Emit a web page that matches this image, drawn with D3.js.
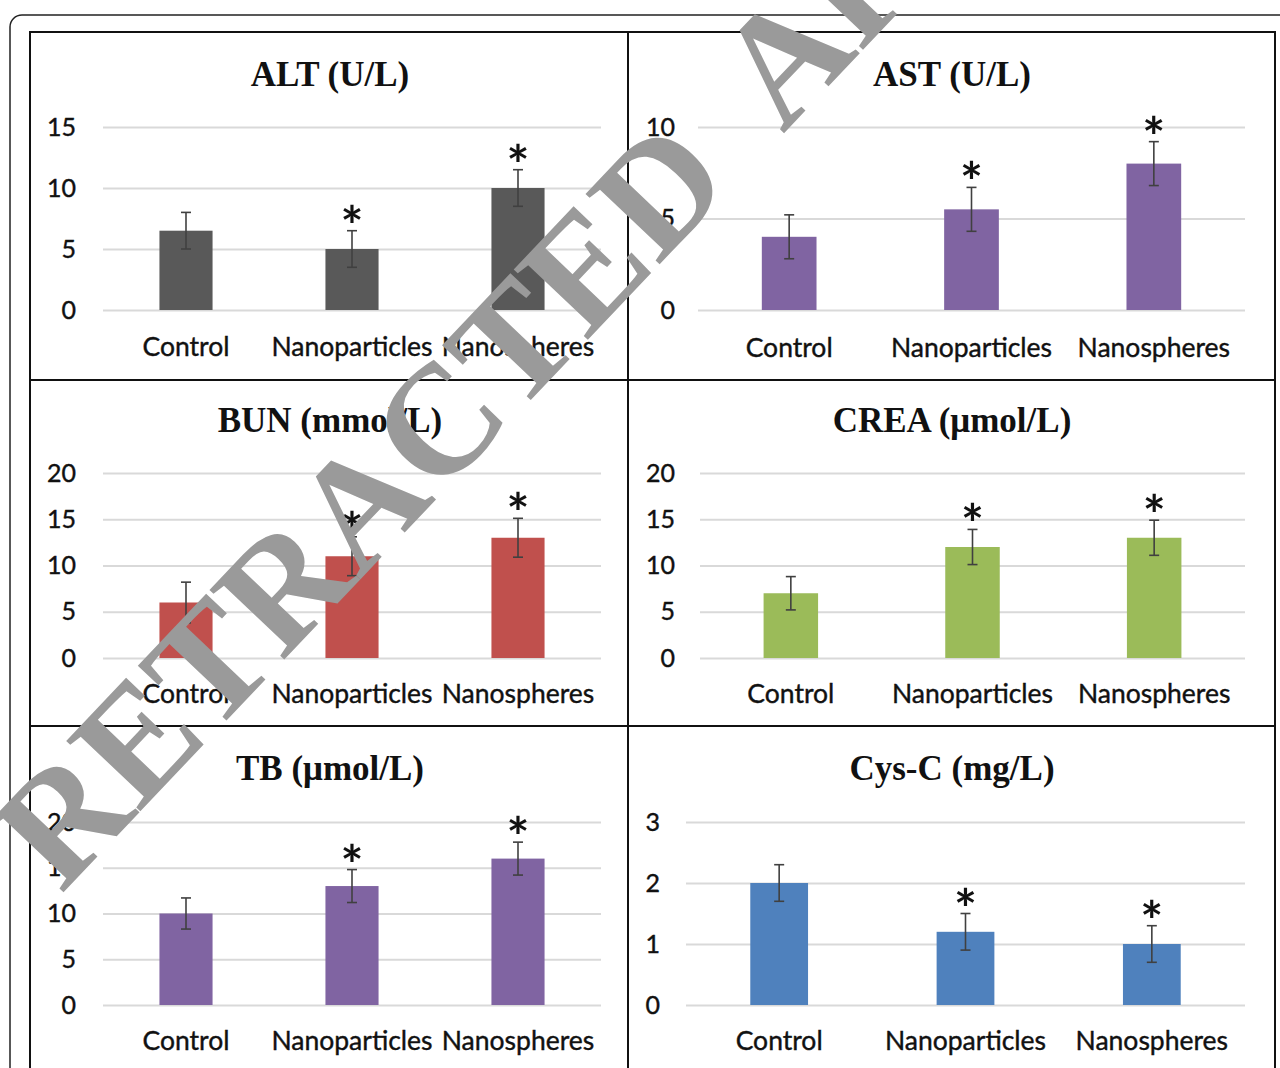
<!DOCTYPE html>
<html>
<head>
<meta charset="utf-8">
<script src="https://cdn.jsdelivr.net/npm/d3@7"></script>
<style>
  html, body { margin: 0; padding: 0; background: #fff; }
  svg { display: block; }
</style>
</head>
<body>
<svg id="chart" width="1280" height="1068"></svg>
<script>
// Serum biochemistry: mean ± error for each treatment group
const groups = ["Control", "Nanoparticles", "Nanospheres"];

const altMean = [6.5, 5, 10];
const altErr = [1.5, 1.5, 1.5];
const altTicks = [0, 5, 10, 15];

const astMean = [4, 5.5, 8];
const astErr = [1.2, 1.2, 1.2];
const astTicks = [0, 5, 10];

const bunMean = [6, 11, 13];
const bunErr = [2.2, 2.1, 2.1];
const bunTicks = [0, 5, 10, 15, 20];

const creaMean = [7, 12, 13];
const creaErr = [1.8, 1.9, 1.9];
const creaTicks = [0, 5, 10, 15, 20];

const tbMean = [10, 13, 16];
const tbErr = [1.7, 1.8, 1.8];
const tbTicks = [0, 5, 10, 15, 20];

const cysMean = [2, 1.2, 1];
const cysErr = [0.3, 0.3, 0.3];
const cysTicks = [0, 1, 2, 3];

// groups marked significant versus control
const significant = [false, true, true];

const panelTitles = ["ALT (U/L)", "AST (U/L)", "BUN (mmol/L)", "CREA (μmol/L)", "TB (μmol/L)", "Cys-C (mg/L)"];

const panels = [
  { title: panelTitles[0], mean: altMean, err: altErr, ticks: altTicks, color: "#595959",
    x0: 103, x1: 601, labelX: 76, y0: 310, y1: 127, titleX: 330, titleY: 74, catY: 347, pad: 0.68 },
  { title: panelTitles[1], mean: astMean, err: astErr, ticks: astTicks, color: "#8064a2",
    x0: 698, x1: 1245, labelX: 675, y0: 310, y1: 127, titleX: 952, titleY: 74, catY: 348, pad: 0.70 },
  { title: panelTitles[2], mean: bunMean, err: bunErr, ticks: bunTicks, color: "#c0504d",
    x0: 103, x1: 601, labelX: 76, y0: 658, y1: 473, titleX: 330, titleY: 420, catY: 694, pad: 0.68 },
  { title: panelTitles[3], mean: creaMean, err: creaErr, ticks: creaTicks, color: "#9bbb59",
    x0: 700, x1: 1245, labelX: 675, y0: 658, y1: 473, titleX: 952, titleY: 420, catY: 694, pad: 0.70 },
  { title: panelTitles[4], mean: tbMean, err: tbErr, ticks: tbTicks, color: "#8064a2",
    x0: 103, x1: 601, labelX: 76, y0: 1005, y1: 822, titleX: 330, titleY: 768, catY: 1041, pad: 0.68 },
  { title: panelTitles[5], mean: cysMean, err: cysErr, ticks: cysTicks, color: "#4f81bd",
    x0: 686, x1: 1245, labelX: 660, y0: 1005, y1: 822, titleX: 952, titleY: 768, catY: 1041, pad: 0.69 }
];

const svg = d3.select("#chart");
const sansFont = "Lato, 'Open Sans', sans-serif";
const serifFont = "'Liberation Serif', 'DejaVu Serif', serif";

// outer rounded frame and the table grid around the six panels
svg.append("rect")
  .attr("x", 10).attr("y", 15).attr("width", 1300).attr("height", 1100)
  .attr("rx", 12).attr("fill", "none").attr("stroke", "#222").attr("stroke-width", 1.5);

const table = svg.append("g").attr("stroke", "#111").attr("stroke-width", 2).attr("fill", "none");
table.append("rect").attr("x", 30).attr("y", 32).attr("width", 1245).attr("height", 1080);
table.append("line").attr("x1", 628).attr("x2", 628).attr("y1", 32).attr("y2", 1068);
table.append("line").attr("x1", 30).attr("x2", 1275).attr("y1", 380).attr("y2", 380);
table.append("line").attr("x1", 30).attr("x2", 1275).attr("y1", 726).attr("y2", 726);

panels.forEach(p => {
  const g = svg.append("g");
  const yMax = d3.max(p.ticks);
  const y = d3.scaleLinear().domain([0, yMax]).range([p.y0, p.y1]);
  const x = d3.scaleBand().domain(groups).range([p.x0, p.x1])
    .paddingInner(p.pad).paddingOuter(p.pad / 2);
  const cx = d => x(d) + x.bandwidth() / 2;

  // horizontal gridlines + tick labels via a left axis
  const axis = d3.axisLeft(y).tickValues(p.ticks).tickFormat(d3.format("d"))
    .tickSize(-(p.x1 - p.x0)).tickPadding(p.x0 - p.labelX);
  const ag = g.append("g").attr("transform", `translate(${p.x0},0)`).call(axis);
  ag.select(".domain").remove();
  ag.selectAll(".tick line").attr("stroke", "#d9d9d9").attr("stroke-width", 2);
  ag.selectAll(".tick text")
    .attr("font-family", sansFont).attr("font-size", 25).attr("fill", "#111")
    .attr("stroke", "#111").attr("stroke-width", 0.4);

  // title
  g.append("text")
    .attr("x", p.titleX).attr("y", p.titleY).attr("dy", "0.35em")
    .attr("text-anchor", "middle")
    .attr("font-family", serifFont).attr("font-weight", "bold").attr("font-size", 35)
    .attr("fill", "#111").text(p.title);

  // bars
  g.selectAll("rect.bar").data(groups).join("rect")
    .attr("class", "bar")
    .attr("x", d => x(d)).attr("width", x.bandwidth())
    .attr("y", (d, i) => y(p.mean[i]))
    .attr("height", (d, i) => y(0) - y(p.mean[i]))
    .attr("fill", p.color);

  // error bars
  const cap = 5;
  const eb = g.selectAll("g.err").data(groups).join("g").attr("class", "err")
    .attr("stroke", "#404040").attr("stroke-width", 1.6);
  eb.append("line")
    .attr("x1", cx).attr("x2", cx)
    .attr("y1", (d, i) => y(p.mean[i] + p.err[i])).attr("y2", (d, i) => y(p.mean[i] - p.err[i]));
  eb.append("line")
    .attr("x1", d => cx(d) - cap).attr("x2", d => cx(d) + cap)
    .attr("y1", (d, i) => y(p.mean[i] + p.err[i])).attr("y2", (d, i) => y(p.mean[i] + p.err[i]));
  eb.append("line")
    .attr("x1", d => cx(d) - cap).attr("x2", d => cx(d) + cap)
    .attr("y1", (d, i) => y(p.mean[i] - p.err[i])).attr("y2", (d, i) => y(p.mean[i] - p.err[i]));

  // significance markers
  g.selectAll("text.sig").data(groups.filter((d, i) => significant[i])).join("text")
    .attr("class", "sig")
    .attr("x", cx)
    .attr("y", d => { const i = groups.indexOf(d); return y(p.mean[i] + p.err[i]) + 14; })
    .attr("text-anchor", "middle")
    .attr("font-family", sansFont).attr("font-weight", "bold").attr("font-size", 54)
    .attr("fill", "#111").text("*");

  // category labels
  g.selectAll("text.cat").data(groups).join("text")
    .attr("class", "cat")
    .attr("x", cx).attr("y", p.catY).attr("dy", "0.35em")
    .attr("text-anchor", "middle")
    .attr("font-family", sansFont).attr("font-size", 26.5).attr("fill", "#111")
    .attr("stroke", "#111").attr("stroke-width", 0.4)
    .text(d => d);
});

// retraction stamp across the figure
svg.append("text")
  .attr("transform", "translate(61,895) rotate(-46.5)")
  .attr("font-family", serifFont).attr("font-weight", "bold").attr("font-size", 156)
  .attr("word-spacing", 39)
  .attr("fill", "#9a9a9a")
  .text("RETRACTED ARTICLE");
</script>
</body>
</html>
